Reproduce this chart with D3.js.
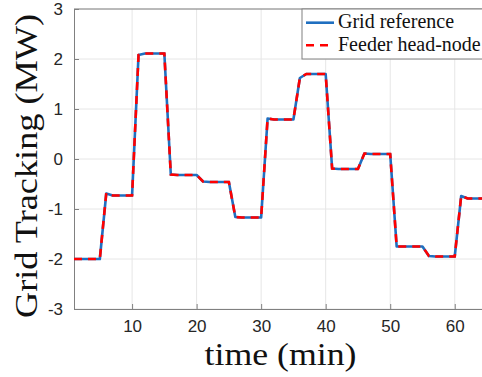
<!DOCTYPE html>
<html>
<head>
<meta charset="utf-8">
<script src="https://cdn.jsdelivr.net/npm/d3@7"></script>
<style>
  body { margin: 0; background: #fff; overflow: hidden; }
  svg { display: block; }
</style>
</head>
<body>
<div id="chart"></div>
<script>
// minutes 1..65
const minutes = d3.range(1, 66);
const gridReference = [
    -2.00, -2.00, -2.00, -2.00, -2.00,
    -0.69, -0.73, -0.73, -0.73, -0.73,
    2.08, 2.11, 2.11, 2.11, 2.11,
    -0.31, -0.32, -0.32, -0.32, -0.32,
    -0.45, -0.46, -0.46, -0.46, -0.46,
    -1.16, -1.17, -1.17, -1.17, -1.17,
    0.81, 0.79, 0.79, 0.79, 0.79,
    1.62, 1.70, 1.70, 1.70, 1.70,
    -0.19, -0.20, -0.20, -0.20, -0.20,
    0.11, 0.10, 0.10, 0.10, 0.10,
    -1.75, -1.75, -1.75, -1.75, -1.75,
    -1.94, -1.95, -1.95, -1.95, -1.95,
    -0.74, -0.79, -0.79, -0.79, -0.79
];
const feederHead = [
    -2.00, -2.00, -2.00, -2.00, -2.00,
    -0.68, -0.73, -0.73, -0.73, -0.73,
    2.08, 2.11, 2.11, 2.11, 2.11,
    -0.31, -0.32, -0.32, -0.32, -0.32,
    -0.45, -0.46, -0.46, -0.46, -0.46,
    -1.16, -1.17, -1.17, -1.17, -1.17,
    0.81, 0.79, 0.79, 0.79, 0.79,
    1.62, 1.70, 1.70, 1.70, 1.70,
    -0.19, -0.20, -0.20, -0.20, -0.20,
    0.11, 0.10, 0.10, 0.10, 0.10,
    -1.75, -1.75, -1.75, -1.75, -1.75,
    -1.94, -1.95, -1.95, -1.95, -1.95,
    -0.74, -0.79, -0.79, -0.79, -0.79
];
const xTicks = [10, 20, 30, 40, 50, 60];
const yTicks = [-3, -2, -1, 0, 1, 2, 3];
const legendLabels = ["Grid reference", "Feeder head-node"];

function drawChart() {
    const width = 482, height = 377;
    const margin = {top: 9, right: -5, bottom: 68, left: 74};
    const serif = "'Liberation Serif', 'Times New Roman', serif";
    const sans = "'Liberation Sans', Arial, sans-serif";

    const svg = d3.select("#chart")
        .append("svg")
        .attr("width", width)
        .attr("height", height);

    const x = d3.scaleLinear()
        .domain([1, 65])
        .range([margin.left, width - margin.right]);

    const y = d3.scaleLinear()
        .domain([-3, 3])
        .range([height - margin.bottom, margin.top]);

    // grid
    svg.append("g")
        .selectAll("line")
        .data(xTicks)
        .join("line")
        .attr("x1", d => x(d)).attr("x2", d => x(d))
        .attr("y1", y(-3)).attr("y2", y(3))
        .attr("stroke", "#e6e6e6");
    svg.append("g")
        .selectAll("line")
        .data(yTicks)
        .join("line")
        .attr("x1", x(1)).attr("x2", x(65))
        .attr("y1", d => y(d)).attr("y2", d => y(d))
        .attr("stroke", "#e6e6e6");

    // axes
    function xAxis(g) {
        g.attr("transform", `translate(0,${y(-3)})`)
            .call(d3.axisBottom(x).tickValues(xTicks).tickSizeInner(-5).tickSizeOuter(0).tickPadding(11))
            .attr("font-size", "17px")
            .attr("font-family", sans);
    }
    function yAxis(g) {
        g.attr("transform", `translate(${x(1)},0)`)
            .call(d3.axisLeft(y).tickValues(yTicks).tickFormat(d => String(d))
                .tickSizeInner(-5).tickSizeOuter(0).tickPadding(11))
            .attr("font-size", "17px")
            .attr("font-family", sans);
    }
    svg.append("g").call(xAxis);
    svg.append("g").call(yAxis);
    svg.selectAll(".domain").attr("stroke", "#808080");
    svg.selectAll(".tick line").attr("stroke", "#808080");
    svg.selectAll(".tick text").attr("fill", "#262626");

    // top border
    svg.append("line")
        .attr("x1", x(1)).attr("x2", x(65))
        .attr("y1", y(3)).attr("y2", y(3))
        .attr("stroke", "#808080");

    const line = d3.line()
        .x((d, i) => x(minutes[i]))
        .y(d => y(d));

    svg.append("path")
        .datum(gridReference)
        .attr("fill", "none")
        .attr("stroke", "#1f6fc0")
        .attr("stroke-width", 2.6)
        .attr("stroke-linejoin", "round")
        .attr("d", line);

    svg.append("path")
        .datum(feederHead)
        .attr("fill", "none")
        .attr("stroke", "#ff0000")
        .attr("stroke-width", 2.6)
        .attr("stroke-dasharray", "8,6")
        .attr("d", line);

    // legend
    const lg = svg.append("g").attr("transform", "translate(302,9)");
    lg.append("rect")
        .attr("width", 200).attr("height", 50)
        .attr("fill", "#fff")
        .attr("stroke", "#808080");
    const styles = [
        {color: "#1f6fc0", dash: null},
        {color: "#ff0000", dash: "8,6"}
    ];
    legendLabels.forEach((lab, i) => {
        const yy = 13.7 + i * 22.6;
        lg.append("line")
            .attr("x1", 4).attr("x2", 32)
            .attr("y1", yy).attr("y2", yy)
            .attr("stroke", styles[i].color)
            .attr("stroke-width", 2.6)
            .attr("stroke-dasharray", styles[i].dash);
        lg.append("text")
            .attr("x", 36).attr("y", yy + 5.5)
            .attr("font-family", serif)
            .attr("font-size", "20px")
            .attr("fill", "#111")
            .text(lab);
    });

    // axis labels
    svg.append("text")
        .attr("x", (x(1) + x(65)) / 2)
        .attr("y", 365)
        .attr("text-anchor", "middle")
        .attr("font-family", serif)
        .attr("font-size", "32px")
        .attr("textLength", 152)
        .attr("lengthAdjust", "spacingAndGlyphs")
        .attr("fill", "#111")
        .text("time (min)");

    svg.append("text")
        .attr("transform", `translate(37,${(y(-3) + y(3)) / 2 + 7}) rotate(-90)`)
        .attr("text-anchor", "middle")
        .attr("font-family", serif)
        .attr("font-size", "32px")
        .attr("textLength", 304)
        .attr("lengthAdjust", "spacingAndGlyphs")
        .attr("fill", "#111")
        .text("Grid Tracking (MW)");
}

drawChart();
</script>
</body>
</html>
